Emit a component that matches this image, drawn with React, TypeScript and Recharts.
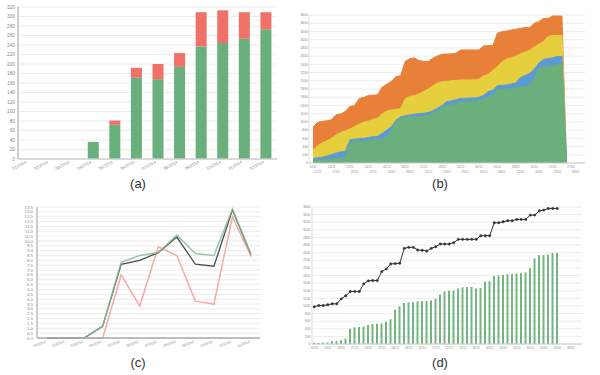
import React from 'react';
import {
  BarChart, Bar, AreaChart, Area, LineChart, Line, ComposedChart,
  XAxis, YAxis, CartesianGrid,
} from 'recharts';

const FONT = '"Liberation Sans", Arial, sans-serif';

// ---------- (a) stacked monthly bars ----------
const aMonths = ['01/2014', '02/2014', '03/2014', '04/2014', '05/2014', '06/2014', '07/2014', '08/2014', '09/2014', '10/2014', '11/2014', '12/2014'];
const aGreen = [0, 0, 0, 36, 72, 171, 168, 194, 237, 244, 253, 273];
const aRed = [0, 0, 0, 0, 9, 21, 32, 29, 72, 69, 56, 36];
const aTicks = [0, 20, 40, 60, 80, 100, 120, 140, 160, 180, 200, 220, 240, 260, 280, 300, 320];

// ---------- (b) stacked areas (running tops of each layer) ----------
const bTotal = [874, 987, 1011, 1027, 1052, 1173, 1189, 1254, 1375, 1391, 1569, 1594, 1642, 1650, 1658, 1845, 1917, 1982, 2103, 2120, 2467, 2540, 2556, 2492, 2475, 2467, 2548, 2605, 2645, 2653, 2653, 2670, 2750, 2750, 2750, 2750, 2750, 2848, 2856, 2856, 3155, 3196, 3212, 3236, 3252, 3276, 3293, 3293, 3398, 3438, 3519, 3519, 3576, 3576, 3576, 0];
const bYellowTop = [310, 420, 490, 540, 600, 680, 740, 780, 830, 880, 940, 990, 1020, 1060, 1090, 1200, 1260, 1290, 1305, 1320, 1560, 1620, 1640, 1680, 1740, 1800, 1880, 1940, 1980, 1985, 2000, 2010, 2020, 2020, 2020, 2025, 2040, 2120, 2150, 2260, 2340, 2460, 2530, 2560, 2600, 2660, 2700, 2740, 2820, 2890, 2960, 3080, 3100, 3100, 3100, 0];
const bBlueTop = [100, 130, 140, 170, 200, 240, 270, 280, 560, 580, 590, 600, 620, 640, 650, 720, 800, 880, 1040, 1120, 1150, 1170, 1190, 1200, 1210, 1230, 1270, 1340, 1400, 1490, 1510, 1540, 1570, 1575, 1580, 1580, 1600, 1640, 1740, 1770, 1880, 1890, 1900, 1920, 1950, 2080, 2130, 2180, 2280, 2430, 2520, 2540, 2560, 2590, 2590, 0];
const bGreen = [60, 70, 80, 90, 100, 110, 120, 130, 480, 520, 525, 530, 540, 560, 565, 580, 650, 770, 1000, 1080, 1110, 1120, 1130, 1130, 1140, 1160, 1200, 1280, 1340, 1390, 1410, 1430, 1470, 1490, 1500, 1500, 1520, 1560, 1620, 1640, 1780, 1800, 1800, 1810, 1830, 1845, 1860, 1900, 2050, 2300, 2340, 2350, 2360, 2400, 2400, 0];
const bLabelsTop = ['10/11', '14/11', '19/11', '24/11', '02/12', '06/12', '12/12', '18/12', '24/12', '30/12', '05/01', '09/01', '15/01', '21/01', '27/01'];
const bLabelsBottom = ['12/11', '17/11', '21/11', '27/11', '03/12', '09/12', '15/12', '19/12', '25/12', '31/12', '06/01', '12/01', '16/01', '22/01', '29/01'];
const bTicks = [0, 200, 400, 600, 800, 1000, 1200, 1400, 1600, 1800, 2000, 2200, 2400, 2600, 2800, 3000, 3200, 3400, 3600];
const CATEGORY_COUNT = 60;

// ---------- (c) monthly lines ----------
const cBlack = [0, 0, 0, 1.2, 7.6, 8.0, 8.8, 10.4, 7.6, 7.4, 13.2, 8.6];
const cGreen = [0, 0, 0, 1.2, 7.8, 8.5, 8.8, 10.6, 8.7, 8.5, 13.3, 8.6];
const cPink = [0, 0, 0, 0, 6.5, 3.3, 9.4, 8.5, 3.8, 3.5, 12.5, 8.4];
const cTicks = [0, 0.5, 1, 1.5, 2, 2.5, 3, 3.5, 4, 4.5, 5, 5.5, 6, 6.5, 7, 7.5, 8, 8.5, 9, 9.5, 10, 10.5, 11, 11.5, 12, 12.5, 13, 13.5];

// ---------- (d) bars + line ----------
const dBars = [30, 30, 40, 40, 70, 75, 100, 140, 400, 440, 450, 460, 500, 530, 530, 540, 580, 650, 900, 990, 1080, 1090, 1100, 1120, 1130, 1130, 1140, 1190, 1300, 1380, 1400, 1400, 1460, 1490, 1500, 1500, 1460, 1470, 1640, 1650, 1790, 1800, 1810, 1830, 1840, 1850, 1860, 1880, 1990, 2250, 2330, 2340, 2350, 2390, 2390];
const dLine = [978, 1013, 1013, 1030, 1056, 1056, 1187, 1266, 1379, 1379, 1379, 1580, 1659, 1667, 1667, 1903, 1973, 2104, 2113, 2121, 2514, 2540, 2540, 2471, 2462, 2444, 2514, 2558, 2628, 2628, 2628, 2663, 2750, 2750, 2750, 2750, 2750, 2846, 2846, 2846, 3186, 3186, 3213, 3239, 3239, 3274, 3274, 3274, 3387, 3387, 3501, 3518, 3562, 3562, 3562];
const dLabels = ['10/11', '13/11', '18/11', '21/11', '26/11', '01/12', '04/12', '09/12', '12/12', '17/12', '22/12', '25/12', '30/12', '02/01', '07/01', '12/01', '15/01', '20/01', '23/01', '28/01'];
const dTicks = bTicks;

// ---------- tables ----------
const aData = aMonths.map((m, k) => ({ m, green: aGreen[k], red: aRed[k] }));
const idx = Array.from({ length: CATEGORY_COUNT }, (_, i) => i);
const bData = idx.map((i) => ({ i, total: bTotal[i], yellow: bYellowTop[i], blue: bBlueTop[i], green: bGreen[i] }));
const cData = aMonths.map((m, k) => ({ m, black: cBlack[k], green: cGreen[k], pink: cPink[k] }));
const dData = idx.map((i) => ({ i, bar: dBars[i], line: dLine[i] }));

const bTopMap: Record<number, string> = {};
bLabelsTop.forEach((l, k) => { bTopMap[k * 4] = l; });
const bBottomMap: Record<number, string> = {};
bLabelsBottom.forEach((l, k) => { bBottomMap[k * 4 + 1] = l; });
const dMap: Record<number, string> = {};
dLabels.forEach((l, k) => { dMap[k * 3] = l; });

const TICK_FILL = '#8a8a8a';

function RotTick(props: any) {
  const { x, y, payload, fs, ox, oy, angle } = props;
  return (
    <g transform={`translate(${x + ox},${y + oy})`}>
      <text x={0} y={0} textAnchor="end" fontSize={fs} fill={TICK_FILL} fontFamily={FONT} transform={`rotate(${angle})`}>
        {payload.value}
      </text>
    </g>
  );
}

function BTick(props: any) {
  const { x, y, payload } = props;
  const v = payload.value as number;
  if (bTopMap[v] !== undefined) {
    return <text x={x} y={y + 4.8} textAnchor="middle" fontSize={3.1} fill={TICK_FILL} fontFamily={FONT}>{bTopMap[v]}</text>;
  }
  if (bBottomMap[v] !== undefined) {
    return <text x={x} y={y + 9.8} textAnchor="middle" fontSize={3.1} fill={TICK_FILL} fontFamily={FONT}>{bBottomMap[v]}</text>;
  }
  return <g />;
}

function DTick(props: any) {
  const { x, y, payload } = props;
  const v = payload.value as number;
  if (dMap[v] === undefined) return <g />;
  return <text x={x} y={y + 5} textAnchor="middle" fontSize={3.1} fill={TICK_FILL} fontFamily={FONT}>{dMap[v]}</text>;
}

const capStyle: React.CSSProperties = {
  position: 'absolute', width: 40, textAlign: 'center', fontFamily: FONT, fontSize: 13, color: '#333', lineHeight: '15px',
};

export default function App() {
  return (
    <div style={{ position: 'absolute', left: 0, top: 0, width: 600, height: 375, background: '#fff', overflow: 'hidden' }}>
      {/* (a) */}
      <div style={{ position: 'absolute', left: 0, top: 0 }}>
        <BarChart width={290} height={180} data={aData} margin={{ top: 7, right: 13, bottom: 0, left: 0 }} barSize={11}>
          <CartesianGrid vertical={false} stroke="#ececec" />
          <XAxis dataKey="m" interval={0} height={21} tickLine={false} tickSize={0} tickMargin={0}
            axisLine={{ stroke: '#cfcfcf', strokeWidth: 1.5 }}
            tick={(p: any) => <RotTick {...p} fs={4.3} ox={-2} oy={4} angle={-28} />} />
          <YAxis width={18} domain={[0, 320]} ticks={aTicks} interval={0} tickLine={false} tickSize={1} tickMargin={2}
            axisLine={{ stroke: '#cfcfcf', strokeWidth: 2 }}
            tick={{ fontSize: 4.8, fill: TICK_FILL, fontFamily: FONT }} />
          <Bar dataKey="green" stackId="s" fill="#6ab07c" isAnimationActive={false} />
          <Bar dataKey="red" stackId="s" fill="#f07167" isAnimationActive={false} />
        </BarChart>
      </div>

      {/* (b) */}
      <div style={{ position: 'absolute', left: 300, top: 0 }}>
        <AreaChart width={300} height={190} data={bData} margin={{ top: 15, right: 15, bottom: 0, left: 0 }}>
          <CartesianGrid vertical={false} stroke="#ececec" />
          <XAxis dataKey="i" type="category" interval={0} height={27} padding={{ left: 4, right: 0 }}
            tickLine={false} tickSize={0} tickMargin={0} axisLine={{ stroke: '#cccccc' }}
            tick={(p: any) => <BTick {...p} />} />
          <YAxis width={9} domain={[0, 3600]} ticks={bTicks} interval={0} tickLine={false} tickSize={0} tickMargin={1}
            axisLine={{ stroke: '#dddddd' }}
            tick={{ fontSize: 3.4, fill: TICK_FILL, fontFamily: FONT }} />
          <Area type="linear" dataKey="total" stroke="#e8803a" strokeWidth={1} fill="#e8803a" fillOpacity={1} dot={false} activeDot={false} isAnimationActive={false} />
          <Area type="linear" dataKey="yellow" stroke="#e6cf3c" strokeWidth={1} fill="#e6cf3c" fillOpacity={1} dot={false} activeDot={false} isAnimationActive={false} />
          <Area type="linear" dataKey="blue" stroke="#5b9bd5" strokeWidth={1} fill="#5b9bd5" fillOpacity={1} dot={false} activeDot={false} isAnimationActive={false} />
          <Area type="linear" dataKey="green" stroke="#6aaf7c" strokeWidth={1} fill="#6aaf7c" fillOpacity={1} dot={false} activeDot={false} isAnimationActive={false} />
        </AreaChart>
      </div>

      {/* (c) */}
      <div style={{ position: 'absolute', left: 0, top: 190 }}>
        <LineChart width={290} height={180} data={cData} margin={{ top: 17, right: 30, bottom: 0, left: 0 }}>
          <CartesianGrid vertical={false} stroke="#ececec" />
          <XAxis dataKey="m" interval={0} height={32} padding={{ left: 10, right: 9 }} tickLine={false} tickSize={0} tickMargin={0}
            axisLine={{ stroke: '#aaaaaa', strokeWidth: 1.5 }}
            tick={(p: any) => <RotTick {...p} fs={3.6} ox={-1} oy={4.5} angle={-22} />} />
          <YAxis width={37} domain={[0, 13.5]} ticks={cTicks} interval={0} tickLine={false} tickSize={0} tickMargin={4}
            axisLine={{ stroke: '#cccccc', strokeWidth: 2 }}
            tickFormatter={(v: number) => v.toFixed(1)}
            tick={{ fontSize: 4.4, fill: TICK_FILL, fontFamily: FONT }} />
          <Line type="linear" dataKey="pink" stroke="#f5aaa4" strokeWidth={1.5} dot={false} activeDot={false} isAnimationActive={false} />
          <Line type="linear" dataKey="black" stroke="#4d4d4d" strokeWidth={1.3} dot={false} activeDot={false} isAnimationActive={false} />
          <Line type="linear" dataKey="green" stroke="#88bd93" strokeWidth={1.5} strokeOpacity={0.85} dot={false} activeDot={false} isAnimationActive={false} />
        </LineChart>
      </div>

      {/* (d) */}
      <div style={{ position: 'absolute', left: 300, top: 190 }}>
        <ComposedChart width={300} height={180} data={dData} margin={{ top: 17, right: 18, bottom: 0, left: 0 }} barSize={2}>
          <CartesianGrid vertical={false} stroke="#ececec" />
          <XAxis dataKey="i" interval={0} height={26} tickLine={false} tickSize={0} tickMargin={0}
            axisLine={{ stroke: '#cccccc' }}
            tick={(p: any) => <DTick {...p} />} />
          <YAxis width={12} domain={[0, 3600]} ticks={dTicks} interval={0} tickLine={false} tickSize={0} tickMargin={1.5}
            axisLine={{ stroke: '#dddddd' }}
            tick={{ fontSize: 3.4, fill: TICK_FILL, fontFamily: FONT }} />
          <Bar dataKey="bar" fill="#72b57f" isAnimationActive={false} />
          <Line type="linear" dataKey="line" stroke="#333333" strokeWidth={1}
            dot={{ r: 1.2, fill: '#333333', stroke: '#333333', strokeWidth: 0.4 }} activeDot={false} isAnimationActive={false} />
        </ComposedChart>
      </div>

      <div style={{ ...capStyle, left: 118, top: 175.5 }}>(a)</div>
      <div style={{ ...capStyle, left: 420, top: 175.5 }}>(b)</div>
      <div style={{ ...capStyle, left: 118, top: 354.5 }}>(c)</div>
      <div style={{ ...capStyle, left: 420, top: 354.5 }}>(d)</div>
    </div>
  );
}
